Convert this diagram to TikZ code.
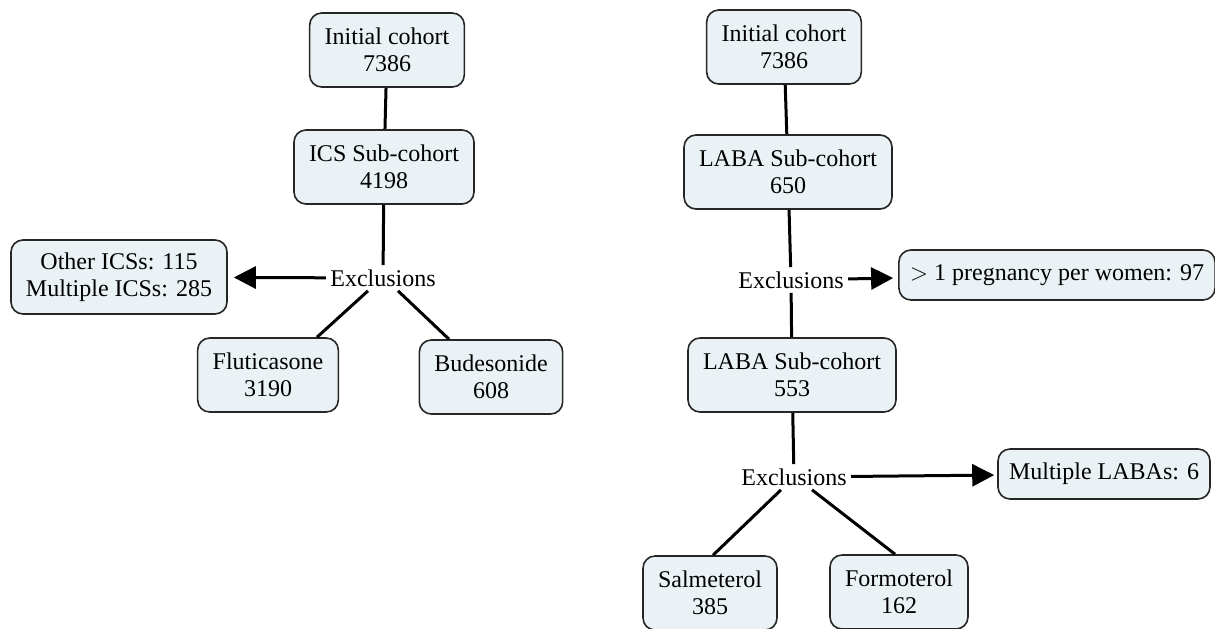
\documentclass[tikz,border=0pt]{standalone}
\usepackage{fontspec}
\setmainfont{Liberation Serif}
\usepackage{tikz}
\usetikzlibrary{arrows.meta}
\definecolor{boxfill}{RGB}{234,242,246}
\tikzstyle{box}    = [rectangle, rounded corners=6pt, draw=black!85, line width=0.8pt, fill=boxfill, align=center, minimum height=37pt, inner xsep=7.5pt]
\tikzstyle{single} = [box, minimum height=25pt, inner xsep=5.5pt]
\tikzstyle{excl}   = [inner sep=2pt]
\tikzstyle{link}   = [line width=1.5pt]
\tikzstyle{arrow}  = [line width=1.5pt, -{Triangle[length=11pt,width=11pt]}]

\begin{document}
\begin{tikzpicture}[x=0.5pt, y=-0.5pt, font=\fontsize{12}{13.5}\selectfont]
      \useasboundingbox (0,0) rectangle (1215,628);

      \node (0A)  [box]    at (387,50)   {Initial cohort\\7386};
      \node (0B)  [box]    at (384,167)  {ICS Sub-cohort\\4198};
      \node (0X)  [excl]   at (383,278)  {Exclusions};
      \node (0E)  [box]    at (119,277)  {Other ICSs: 115\\Multiple ICSs: 285};
      \node (0C)  [box]    at (268,375)  {Fluticasone\\3190};
      \node (0D)  [box]    at (491,377)  {Budesonide\\608};

      \node (1A)  [box]    at (784,47)   {Initial cohort\\7386};
      \node (1B)  [box]    at (788,172)  {LABA Sub-cohort\\650};
      \node (1X)  [excl]   at (791,280)  {Exclusions};
      \node (1E)  [single] at (1057,275) {$>$ 1 pregnancy per women: 97};
      \node (2B)  [box]    at (792,375)  {LABA Sub-cohort\\553};
      \node (2X)  [excl]   at (794,477)  {Exclusions};
      \node (2E)  [single] at (1104,474) {Multiple LABAs: 6};
      \node (2C)  [box]    at (710,593)  {Salmeterol\\385};
      \node (2D)  [box]    at (899,592)  {Formoterol\\162};

      \draw [link] (0A) -- (0B);
      \draw [link] (0B) -- (0X);
      \draw [arrow, shorten >=3pt] (0X) -- (0E);
      \draw [link] ([xshift=-7.5pt]0X.south) -- ([xshift=24.5pt]0C.north);
      \draw [link] ([xshift=7.5pt]0X.south) -- ([xshift=-21pt]0D.north);

      \draw [link] (1A) -- (1B);
      \draw [link] (1B) -- (1X);
      \draw [arrow, shorten >=2.5pt] (1X) -- (1E);
      \draw [link] (1X) -- (2B);

      \draw [link] (2B) -- (2X);
      \draw [arrow, shorten >=1.5pt] (2X) -- (2E);
      \draw [link] ([xshift=-6.5pt]2X.south) -- ([xshift=1.5pt]2C.north);
      \draw [link] ([xshift=9pt]2X.south) -- ([xshift=-2pt]2D.north);

    \end{tikzpicture}
\end{document}
